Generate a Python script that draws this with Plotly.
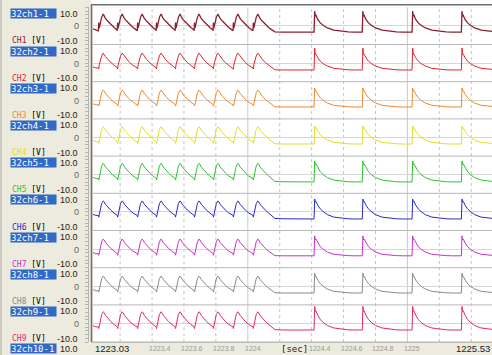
import plotly.graph_objects as go

# ---------------- data ----------------
channel_names = ["CH1", "CH2", "CH3", "CH4", "CH5", "CH6", "CH7", "CH8", "CH9"]
row_labels = ["32ch1-1", "32ch2-1", "32ch3-1", "32ch4-1", "32ch5-1",
              "32ch6-1", "32ch7-1", "32ch8-1", "32ch9-1", "32ch10-1"]
line_colors = ["#8C1F2E", "#E0262E", "#F0882A", "#E4DE2A", "#2EC42E",
               "#2A2AC8", "#C436C4", "#8A8A8A", "#E2286A"]

x_start, x_end = 1223.03, 1225.53
grid_times = [1223.2, 1223.4, 1223.6, 1223.8, 1224.0, 1224.2, 1224.4,
              1224.6, 1224.8, 1225.0, 1225.2, 1225.4]
tick_labels = [(1223.4, "1223.4"), (1223.6, "1223.6"), (1223.8, "1223.8"),
               (1224.0, "1224"), (1224.4, "1224.4"), (1224.6, "1224.6"),
               (1224.8, "1224.8"), (1225.0, "1225")]

# event times
lead_times = [1223.03, 1223.048]
fast_peak_times = [1223.094, 1223.2125, 1223.3375, 1223.456, 1223.575,
                   1223.694, 1223.8125, 1223.9375, 1224.0625]
fast_offsets = [-0.030, -0.028, -0.025, -0.010, 0.0, 0.006, 0.014, 0.028,
                0.048, 0.068, 0.086]
gap_times = [1224.17, 1224.22, 1224.28, 1224.34, 1224.39]
slow_peak_times = [1224.419, 1224.721, 1225.033, 1225.342]
slow_offsets = [-0.004, 0.0, 0.004, 0.008, 0.02, 0.035, 0.055, 0.08,
                0.12, 0.17, 0.21, 0.25]

# per channel values [V]
ch_lead = [[-1.6, -2.3], [-2.0, -2.6], [-1.9, -2.5], [-1.6, -2.3], [-1.4, -2.0],
           [-1.3, -1.9], [-1.9, -2.5], [-1.8, -2.4], [-1.2, -1.8]]
ch_fast = [
    [-2.6, 1.8, -1.2, 4.6, 6.4, 5.4, 4.0, 2.6, 0.8, -0.8, -2.0],
    [-2.6, -3.2, -1.0, 3.8, 5.4, 4.8, 3.5, 2.0, 0.2, -1.2, -2.2],
    [-2.3, -3.1, -2.2, 4.0, 5.5, 5.0, 3.7, 2.2, 0.4, -1.0, -2.1],
    [-2.2, -3.2, -2.3, 4.3, 5.8, 5.3, 4.0, 2.6, 0.8, -0.9, -2.0],
    [-2.0, -2.9, -1.9, 4.6, 6.1, 5.6, 4.2, 2.7, 0.9, -0.7, -1.8],
    [-1.9, -2.8, -1.6, 4.4, 5.9, 5.4, 4.1, 2.6, 0.9, -0.6, -1.7],
    [-2.4, -3.3, -2.3, 3.9, 5.4, 4.9, 3.6, 2.1, 0.3, -1.1, -2.2],
    [-2.3, -3.1, -2.0, 4.0, 5.5, 5.0, 3.7, 2.2, 0.4, -1.0, -2.1],
    [-1.8, -2.7, -1.6, 4.8, 6.3, 5.8, 4.4, 2.8, 1.0, -0.5, -1.6],
]
ch_gap = [[-3.2, -3.4, -3.2, -3.4, -3.3], [-3.6, -3.7, -3.6, -3.8, -3.7],
          [-3.5, -3.6, -3.6, -3.6, -3.6], [-3.4, -3.5, -3.5, -3.5, -3.5],
          [-3.6, -3.8, -3.9, -3.9, -3.9], [-3.5, -3.7, -3.8, -3.8, -3.8],
          [-3.5, -3.6, -3.6, -3.6, -3.6], [-3.5, -3.6, -3.6, -3.6, -3.6],
          [-3.3, -3.5, -3.5, -3.5, -3.5]]
ch_slow = [
    [-3.3, 8.0, 5.2, 5.6, 3.3, 1.6, 0.2, -1.1, -2.3, -2.9, -3.2, -3.3],
    [-3.7, 8.1, 4.6, 4.8, 2.8, 1.0, -0.4, -1.6, -2.8, -3.4, -3.6, -3.7],
    [-3.6, 6.6, 5.0, 5.2, 3.2, 1.4, -0.2, -1.5, -2.7, -3.3, -3.5, -3.6],
    [-3.5, 6.2, 5.0, 5.2, 3.4, 1.6, 0.0, -1.4, -2.6, -3.2, -3.4, -3.5],
    [-3.9, 7.4, 5.4, 5.8, 3.6, 1.6, -0.1, -1.6, -2.9, -3.6, -3.8, -3.9],
    [-3.8, 6.9, 5.4, 5.7, 3.5, 1.6, 0.0, -1.5, -2.8, -3.5, -3.7, -3.8],
    [-3.6, 7.1, 5.0, 5.4, 3.2, 1.3, -0.2, -1.6, -2.8, -3.4, -3.5, -3.6],
    [-3.6, 7.1, 5.1, 5.4, 3.3, 1.4, -0.1, -1.5, -2.7, -3.3, -3.5, -3.6],
    [-3.5, 9.2, 6.6, 6.8, 4.3, 2.2, 0.4, -1.1, -2.4, -3.1, -3.4, -3.5],
]

# ---------------- layout helpers ----------------
W, H = 492, 355
PLOT_L, PLOT_R = 93, 492
TOP0, STEP = 7.3, 37.2
BOTTOM = TOP0 + 9 * STEP
BEIGE = "#ECEBDD"
MONO = "DejaVu Sans Mono"
SANS = "Liberation Sans"


def px(x):
    return x / W


def py(y):
    return 1 - y / H


fig = go.Figure()

# times shared by all channels
xs = list(lead_times)
for p in fast_peak_times:
    xs += [p + o for o in fast_offsets]
xs += gap_times
for s in slow_peak_times:
    xs += [s + o for o in slow_offsets]

for k in range(9):
    ys = list(ch_lead[k])
    for _ in fast_peak_times:
        ys += ch_fast[k]
    ys += ch_gap[k]
    for _ in slow_peak_times:
        ys += ch_slow[k]
    yname = "y" if k == 0 else f"y{k + 1}"
    fig.add_trace(go.Scatter(x=xs, y=ys, mode="lines", xaxis="x", yaxis=yname,
                             line=dict(color=line_colors[k],
                                       width=1.3 if k == 0 else 1),
                             hoverinfo="skip", showlegend=False))

layout = dict(
    width=W, height=H, margin=dict(l=0, r=0, t=0, b=0),
    paper_bgcolor=BEIGE, plot_bgcolor="white", showlegend=False,
    xaxis=dict(domain=[px(PLOT_L), 1], range=[x_start, x_end], showgrid=False,
               zeroline=False, showticklabels=False, showline=False,
               anchor="y9", fixedrange=True),
)
for k in range(9):
    top = TOP0 + k * STEP
    key = "yaxis" if k == 0 else f"yaxis{k + 1}"
    layout[key] = dict(
        domain=[py(top + STEP), py(top)], range=[-10, 10], anchor="free",
        position=px(88), side="left", ticks="outside", ticklen=3,
        tickcolor="#B4B4B4", dtick=2, tick0=0, showticklabels=False,
        showline=True, linecolor="#B4B4B4", showgrid=False,
        zeroline=True, zerolinecolor="#D6D6D6", zerolinewidth=1,
        fixedrange=True)
fig.update_layout(**layout)

shapes = []
# white strip above the plot
shapes.append(dict(type="rect", xref="paper", yref="paper", x0=px(91), x1=1,
                   y0=py(TOP0), y1=1, fillcolor="white", line_width=0,
                   layer="below"))
# vertical grid
for t in grid_times:
    solid = abs(t - round(t)) < 1e-9
    shapes.append(dict(type="line", xref="x", yref="paper", x0=t, x1=t,
                       y0=py(BOTTOM), y1=py(TOP0),
                       line=dict(color="#CACACA" if solid else "#C4C4C4",
                                 width=1, dash="solid" if solid else "dot"),
                       layer="below"))
# channel boundaries
for k in range(1, 9):
    yy = TOP0 + k * STEP
    shapes.append(dict(type="line", xref="paper", yref="paper", x0=px(PLOT_L),
                       x1=1, y0=py(yy), y1=py(yy),
                       line=dict(color="#B8B8B8", width=1), layer="below"))
# frame
shapes.append(dict(type="line", xref="paper", yref="paper", x0=px(91), x1=1,
                   y0=py(4.8), y1=py(4.8), line=dict(color="#6E6E6E", width=1.5)))
shapes.append(dict(type="line", xref="paper", yref="paper", x0=px(91.5),
                   x1=px(91.5), y0=py(BOTTOM), y1=py(4.8),
                   line=dict(color="#6E6E6E", width=1.5)))
shapes.append(dict(type="line", xref="paper", yref="paper", x0=px(91),
                   x1=1, y0=py(BOTTOM), y1=py(BOTTOM),
                   line=dict(color="#A0A0A0", width=1)))
shapes.append(dict(type="line", xref="paper", yref="paper", x0=px(1),
                   x1=px(1), y0=0, y1=1, line=dict(color="#A8A8A8", width=1)))
fig.update_layout(shapes=shapes)

ann = []


def text(x, y, s, size=9, color="black", xanchor="left", family=MONO, **kw):
    ann.append(dict(x=px(x), y=py(y), xref="paper", yref="paper", text=s,
                    showarrow=False, xanchor=xanchor, yanchor="middle",
                    font=dict(family=family, size=size, color=color), **kw))


for k in range(10):
    top = TOP0 + k * STEP
    text(10, top + 6.5, row_labels[k], color="white", bgcolor="#3169C6",
         width=45, height=9, align="left", borderpad=0)
    text(80, top + 6.5, "10.0", xanchor="right", family=SANS, color="#222222")
    if k < 9:
        text(81, top + STEP / 2 + 0.5, "0", xanchor="right", color="#666666",
             family=SANS)
        text(10, top + STEP - 3.5,
             f"<span style='color:{line_colors[k]}'>{channel_names[k]}</span> [V]",
             size=8)
        text(80, top + STEP - 3.5, "-10.0", xanchor="right", family=SANS,
             color="#222222")

# x axis labels
text(93, 348.5, "1223.03", size=9.5, color="#222222", family=SANS)
text(492, 348.5, "1225.53", size=9.5, color="#222222", xanchor="right",
     family=SANS)
for t, s in tick_labels:
    xpix = PLOT_L + (t - x_start) / (x_end - x_start) * (PLOT_R - PLOT_L)
    text(xpix - 5, 348.5, s, size=7, color="#9A9A9A", family=SANS)
xsec = PLOT_L + (1224.2 - x_start) / (x_end - x_start) * (PLOT_R - PLOT_L)
text(xsec - 1, 348.5, "[sec]", size=9, color="#222222")

fig.update_layout(annotations=ann)
fig.write_html(
    "out.html",
    config={"displayModeBar": False},
    post_script="document.body.style.margin='0';document.body.style.overflow='hidden';")
